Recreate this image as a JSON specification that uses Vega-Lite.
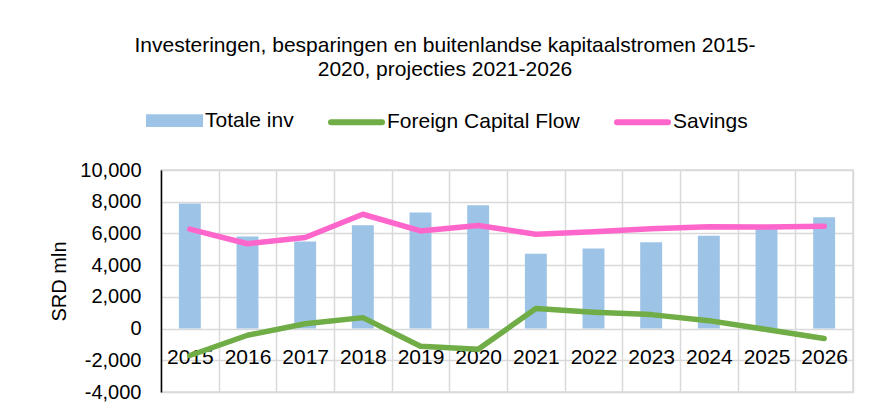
{
  "$schema": "https://vega.github.io/schema/vega-lite/v6.json",
  "autosize": {"type": "none"},
  "width": 692,
  "height": 222,
  "padding": {"left": 161, "top": 170, "right": 18, "bottom": 24},
  "background": "white",
  "title": {
    "text": ["Investeringen, besparingen en buitenlandse kapitaalstromen 2015-", "2020, projecties 2021-2026"],
    "fontSize": 21,
    "font": "Liberation Sans",
    "fontWeight": "normal",
    "color": "#000000",
    "lineHeight": 24,
    "anchor": "middle",
    "frame": "group",
    "dx": -62,
    "offset": 12
  },
  "config": {
    "view": {"stroke": "#d9d9d9", "strokeWidth": 1.5},
    "font": "Liberation Sans"
  },
  "data": {
    "values": [
      {"year": "2015", "series": "Totale inv", "value": 7880},
      {"year": "2016", "series": "Totale inv", "value": 5800},
      {"year": "2017", "series": "Totale inv", "value": 5490},
      {"year": "2018", "series": "Totale inv", "value": 6520},
      {"year": "2019", "series": "Totale inv", "value": 7320},
      {"year": "2020", "series": "Totale inv", "value": 7780},
      {"year": "2021", "series": "Totale inv", "value": 4720},
      {"year": "2022", "series": "Totale inv", "value": 5050},
      {"year": "2023", "series": "Totale inv", "value": 5450},
      {"year": "2024", "series": "Totale inv", "value": 5850},
      {"year": "2025", "series": "Totale inv", "value": 6300},
      {"year": "2026", "series": "Totale inv", "value": 7020},
      {"year": "2015", "series": "Foreign Capital Flow", "value": -1700},
      {"year": "2016", "series": "Foreign Capital Flow", "value": -420},
      {"year": "2017", "series": "Foreign Capital Flow", "value": 300},
      {"year": "2018", "series": "Foreign Capital Flow", "value": 690},
      {"year": "2019", "series": "Foreign Capital Flow", "value": -1110},
      {"year": "2020", "series": "Foreign Capital Flow", "value": -1300},
      {"year": "2021", "series": "Foreign Capital Flow", "value": 1260},
      {"year": "2022", "series": "Foreign Capital Flow", "value": 1030},
      {"year": "2023", "series": "Foreign Capital Flow", "value": 880},
      {"year": "2024", "series": "Foreign Capital Flow", "value": 500},
      {"year": "2025", "series": "Foreign Capital Flow", "value": -60},
      {"year": "2026", "series": "Foreign Capital Flow", "value": -630},
      {"year": "2015", "series": "Savings", "value": 6270},
      {"year": "2016", "series": "Savings", "value": 5350},
      {"year": "2017", "series": "Savings", "value": 5740},
      {"year": "2018", "series": "Savings", "value": 7210},
      {"year": "2019", "series": "Savings", "value": 6160},
      {"year": "2020", "series": "Savings", "value": 6500},
      {"year": "2021", "series": "Savings", "value": 5950},
      {"year": "2022", "series": "Savings", "value": 6100},
      {"year": "2023", "series": "Savings", "value": 6290},
      {"year": "2024", "series": "Savings", "value": 6420},
      {"year": "2025", "series": "Savings", "value": 6400},
      {"year": "2026", "series": "Savings", "value": 6460}
    ]
  },
  "encoding": {
    "x": {
      "field": "year",
      "type": "nominal",
      "sort": null,
      "scale": {"paddingInner": 0, "paddingOuter": 0},
      "axis": {
        "title": null,
        "labelAngle": 0,
        "labelFontSize": 21,
        "labelColor": "#000000",
        "labelFont": "Liberation Sans",
        "labelPadding": 18,
        "offset": -63.4,
        "domain": false,
        "ticks": false,
        "grid": true,
        "tickBand": "extent",
        "gridColor": "#d9d9d9",
        "gridWidth": 1.5
      }
    },
    "y": {
      "field": "value",
      "type": "quantitative",
      "scale": {"domain": [-4000, 10000], "nice": false},
      "axis": {
        "title": "SRD mln",
        "titleFontSize": 20,
        "titleFontWeight": "normal",
        "titleColor": "#000000",
        "titleFont": "Liberation Sans",
        "titlePadding": 10,
        "values": [-4000, -2000, 0, 2000, 4000, 6000, 8000, 10000],
        "labelExpr": "replace(format(datum.value, ','), '\u2212', '-')",
        "labelFontSize": 20,
        "labelColor": "#000000",
        "labelFont": "Liberation Sans",
        "labelPadding": 20,
        "ticks": false,
        "domainColor": "#000000",
        "domainWidth": 1.5,
        "gridColor": "#d9d9d9",
        "gridWidth": 1.5
      }
    },
    "color": {
      "field": "series",
      "type": "nominal",
      "scale": {
        "domain": ["Totale inv", "Foreign Capital Flow", "Savings"],
        "range": ["#9DC3E6", "#70AD47", "#FF66CC"]
      },
      "legend": {
        "title": null,
        "orient": "none",
        "direction": "horizontal",
        "legendX": -15,
        "legendY": -78,
        "labelFontSize": 21,
        "labelFont": "Liberation Sans",
        "labelColor": "#000000",
        "labelOffset": 2,
        "labelLimit": 400,
        "columnPadding": 25,
        "symbolSize": 2601,
        "encode": {
          "symbols": {
            "update": {
              "shape": {"signal": "datum.value === 'Totale inv' ? 'M-1,-0.13H1V0.13H-1Z' : 'stroke'"},
              "fill": {"signal": "datum.value === 'Totale inv' ? '#9DC3E6' : 'transparent'"},
              "stroke": {"signal": "datum.value === 'Totale inv' ? 'transparent' : (datum.value === 'Savings' ? '#FF66CC' : '#70AD47')"},
              "strokeWidth": {"value": 6},
              "strokeCap": {"value": "round"},
              "opacity": {"value": 1}
            }
          }
        }
      }
    }
  },
  "layer": [
    {
      "transform": [{"filter": "datum.series === 'Totale inv'"}],
      "mark": {"type": "bar", "width": {"band": 0.38}}
    },
    {
      "data": {"values": [{}]},
      "mark": {"type": "rule", "color": "#000000", "strokeWidth": 1.5},
      "encoding": {"y": {"datum": 0}, "x": null, "color": null}
    },
    {
      "transform": [{"filter": "datum.series !== 'Totale inv'"}],
      "mark": {"type": "line", "strokeWidth": 5.5, "strokeCap": "round", "strokeJoin": "round"}
    }
  ]
}
